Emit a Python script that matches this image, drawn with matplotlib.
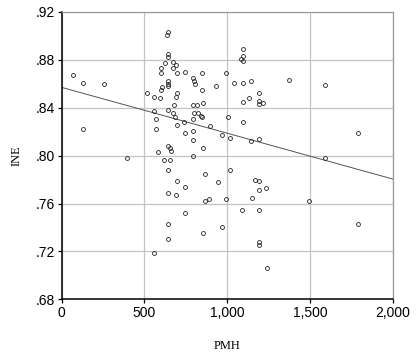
import matplotlib
matplotlib.use("Agg")
import matplotlib.pyplot as plt
import numpy as np

# Data (PMH, INE)
pmh = [70, 127, 254, 127, 395, 514, 556, 597, 559, 572, 567, 579, 556,
       600, 600, 606, 598, 627, 620, 653,
       640, 638, 644, 644, 644, 644, 644, 645, 642, 654, 662, 644, 644, 644, 644,
       674, 688, 674, 695, 695, 688, 677, 671, 685, 695, 694, 692,
       745, 742, 747, 745, 745,
       796, 798, 805, 845, 845, 856, 792, 816, 799, 825, 842, 848, 795, 795, 796, 795,
       856, 868, 866, 893, 856, 896,
       930, 946, 970, 966, 995, 994, 1003, 1019, 1019,
       1044, 1094, 1094, 1085, 1094, 1094, 1094, 1094, 1092, 1132, 1144, 1144, 1151, 1171,
       1194, 1194, 1194, 1215, 1194, 1194, 1194, 1194, 1194, 1194, 1237, 1239,
       1373, 1492, 1593, 1593, 1792, 1792]
ine = [0.867, 0.861, 0.860, 0.822, 0.798, 0.852, 0.849, 0.848, 0.837, 0.831, 0.822, 0.803, 0.719,
       0.873, 0.869, 0.857, 0.855, 0.877, 0.796, 0.796,
       0.903, 0.901, 0.885, 0.882, 0.862, 0.860, 0.858, 0.838, 0.808, 0.806, 0.804, 0.788, 0.769, 0.743, 0.730,
       0.878, 0.876, 0.873, 0.869, 0.852, 0.849, 0.842, 0.836, 0.832, 0.826, 0.779, 0.767,
       0.870, 0.828, 0.819, 0.774, 0.752,
       0.865, 0.862, 0.860, 0.869, 0.855, 0.844, 0.842, 0.842, 0.836, 0.836, 0.833, 0.832, 0.831, 0.821, 0.813, 0.800,
       0.806, 0.785, 0.762, 0.764, 0.735, 0.825,
       0.858, 0.778, 0.817, 0.740, 0.869, 0.764, 0.832, 0.815, 0.788,
       0.861, 0.889, 0.883, 0.881, 0.879, 0.861, 0.845, 0.828, 0.755, 0.848, 0.862, 0.812, 0.765, 0.780,
       0.852, 0.846, 0.843, 0.844, 0.814, 0.779, 0.771, 0.755, 0.728, 0.725, 0.773, 0.706,
       0.863, 0.762, 0.859, 0.798, 0.819, 0.743]

# Fitted regression line (value at x = 0 and x = 2000)
fit_x = [0, 2000]
fit_y = [0.857, 0.7805]

x_ticks = [0, 500, 1000, 1500, 2000]
x_tick_labels = ["0", "500", "1,000", "1,500", "2,000"]
y_ticks = [0.68, 0.72, 0.76, 0.80, 0.84, 0.88, 0.92]
y_tick_labels = [".68", ".72", ".76", ".80", ".84", ".88", ".92"]

fig = plt.figure(figsize=(4.19, 3.59), dpi=100)
ax = fig.add_axes([0.1473, 0.1663, 0.7897, 0.8003])

ax.set_xlim(0, 2000)
ax.set_ylim(0.68, 0.92)
ax.set_xticks(x_ticks)
ax.set_xticklabels(x_tick_labels)
ax.set_yticks(y_ticks)
ax.set_yticklabels(y_tick_labels)

ax.grid(True, color="#c4c4c4", linewidth=0.9)
ax.set_axisbelow(True)

ax.plot(fit_x, fit_y, color="#555555", linewidth=0.7, zorder=2)
ax.plot(pmh, ine, linestyle="none", marker="o", markersize=2.8,
        markerfacecolor="none", markeredgecolor="#222222", markeredgewidth=0.6, zorder=3)

for s in ["top", "right"]:
    ax.spines[s].set_color("#9a9a9a")
    ax.spines[s].set_linewidth(0.9)
for s in ["left", "bottom"]:
    ax.spines[s].set_color("black")
    ax.spines[s].set_linewidth(1.1)

ax.tick_params(axis="both", direction="out", length=3, width=0.9,
               labelsize=10, pad=2)
for lab in ax.get_xticklabels() + ax.get_yticklabels():
    lab.set_family(["Liberation Sans", "DejaVu Sans"])

ax.set_xlabel("PMH", family=["Liberation Serif", "DejaVu Serif"], fontsize=9, labelpad=14)
ax.set_ylabel("INE", family=["Liberation Serif", "DejaVu Serif"], fontsize=9, labelpad=9)

fig.savefig("out.png", dpi=100)
